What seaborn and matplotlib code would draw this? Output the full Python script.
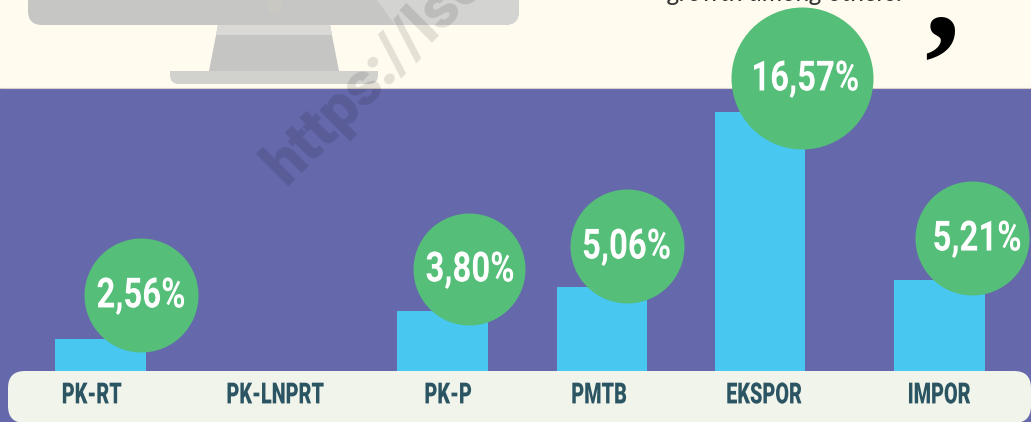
import matplotlib
matplotlib.use("Agg")
import matplotlib.pyplot as plt
import matplotlib.patches as mpatches
import matplotlib.patheffects as pe
from matplotlib.transforms import Affine2D
import pandas as pd
import seaborn as sns

# data
categories = ["PK-RT", "PK-LNPRT", "PK-P", "PMTB", "EKSPOR", "IMPOR"]
category_x = [100.5, 271, 442.5, 602, 760, 939.5]
label_x = [91.5, 275, 448, 599, 764, 939]
bar_heights = [2.05, None, 3.84, 5.37, 16.57, 5.82]
value_labels = ["2,56%", None, "3,80%", "5,06%", "16,57%", "5,21%"]

# badge offsets from the bar tops (px)
badge_shift = [40.5, 0, 26.5, 25, 42, 32.5]
badge_lift = [44, 0, 42, 41, 34, 42]
badge_radius = [57, 0, 56, 57, 71, 57]
text_shift = [0, 0, 1, -0.5, 3, 5]

W, H = 1031, 422
BASE = 371
PX_PER_UNIT = 15.63

CREAM = "#FFFBEF"
PURPLE = "#6568AB"
BLUE = "#48C7F0"
GREEN = "#55BE78"
BAND = "#F0F4EA"
DARK = "#2C5563"


class Condensed(pe.AbstractPathEffect):
    # no condensed font is installed, so squeeze the glyphs around their centre
    def __init__(self, factor):
        super().__init__()
        self.factor = factor

    def draw_path(self, renderer, gc, tpath, affine, rgbFace=None):
        box = tpath.transformed(affine).get_extents()
        cx = (box.x0 + box.x1) / 2
        squeeze = Affine2D().translate(-cx, 0).scale(self.factor, 1).translate(cx, 0)
        renderer.draw_path(gc, tpath, affine + squeeze, rgbFace)


sns.set_theme(style="white")
fig = plt.figure(figsize=(W / 100, H / 100), dpi=100)

# background layer in pixel coordinates
bg = fig.add_axes([0, 0, 1, 1], zorder=0)
bg.set_xlim(0, W)
bg.set_ylim(H, 0)
bg.axis("off")
bg.add_patch(mpatches.Rectangle((0, 0), W, 88, color=CREAM, lw=0))
bg.add_patch(mpatches.Rectangle((0, 88), W, H - 88, color=PURPLE, lw=0))
bg.plot([0, W], [88.3, 88.3], color="#D8D0C8", lw=0.8)

# monitor
screen = mpatches.FancyBboxPatch((28, -40), 491, 65, boxstyle="round,pad=0,rounding_size=14",
                                 fc="#C6C6C4", ec="none", zorder=1)
bg.add_patch(screen)
shine = mpatches.Polygon([(377, 0), (530, 0), (530, 25), (395, 25)], fc="#D3D3D2", ec="none", zorder=1)
bg.add_patch(shine)
shine.set_clip_path(screen)
bg.add_patch(mpatches.Circle((275, 6), 8, fc="#C9C8C2", ec="none", zorder=1))
foot = mpatches.FancyBboxPatch((170, 60), 208, 24, boxstyle="round,pad=0,rounding_size=9",
                               fc="#D1D2CE", ec="none", zorder=1)
bg.add_patch(foot)
bg.add_patch(mpatches.Rectangle((165, 55), 220, 16, fc=CREAM, ec="none", zorder=1.1))
bg.add_patch(mpatches.Polygon([(218, 25), (330, 25), (339, 71), (209, 71)], fc="#C5C5C3", ec="none", zorder=1.2))
bg.add_patch(mpatches.Polygon([(218, 25), (330, 25), (332, 35), (216, 35)], fc="#DAD9D5", ec="none", zorder=1.2))

# watermark
bg.text(286, 187, "https://lsc", rotation=45, rotation_mode="anchor", ha="left", va="baseline",
        fontsize=44, fontweight="heavy", family="Roboto", color="black", alpha=0.11, zorder=3)

# cut-off caption and quote mark
bg.text(668, 1, "growth among others.", fontsize=18.6, style="italic", family="Lato", fontweight="normal",
        color="#333333", ha="left", va="baseline", zorder=3)
bg.text(941.5, 3, ",", fontsize=102, fontweight="bold", family="Liberation Serif", color="black",
        ha="center", va="center", zorder=3)

# label band
bg.add_patch(mpatches.FancyBboxPatch((8, 371), W - 8, 52, boxstyle="round,pad=0,rounding_size=17",
                                     fc=BAND, ec="none", zorder=2))

# bars on an axes whose bottom edge is the baseline
ax = fig.add_axes([0, 1 - BASE / H, 1, BASE / H], zorder=1)
ax.patch.set_alpha(0)
df = pd.DataFrame({"x": category_x, "value": pd.to_numeric(pd.Series(bar_heights))})
sns.barplot(data=df, x="x", y="value", native_scale=True, width=90.5 / 158, color=BLUE,
            saturation=1, linewidth=0, errorbar=None, ax=ax)
ax.set_xlim(0, W)
ax.set_ylim(0, BASE / PX_PER_UNIT)
sns.despine(ax=ax, left=True, bottom=True, top=True, right=True)
ax.set_xlabel("")
ax.set_ylabel("")
ax.set_yticks([])
ax.set_xticks(label_x, categories, family="Roboto", fontweight="heavy", fontsize=21, color=DARK)
ax.tick_params(axis="x", length=0, pad=7.5)
for tick in ax.get_xticklabels():
    tick.set_path_effects([Condensed(0.68)])

# value badges
for i, label in enumerate(value_labels):
    if label is None:
        continue
    cx = category_x[i] + badge_shift[i]
    cy = bar_heights[i] + badge_lift[i] / PX_PER_UNIT
    size = (2 * badge_radius[i] * 72 / 100) ** 2
    ax.scatter([cx], [cy], s=size, color=GREEN, linewidths=0, zorder=4, clip_on=False)
    txt = ax.text(cx + text_shift[i], cy - 1 / PX_PER_UNIT, label, color="white", family="Roboto", fontweight="bold",
                  fontsize=30, ha="center", va="center", zorder=5)
    txt.set_path_effects([Condensed(0.79)])

fig.savefig("out.png", dpi=100)
